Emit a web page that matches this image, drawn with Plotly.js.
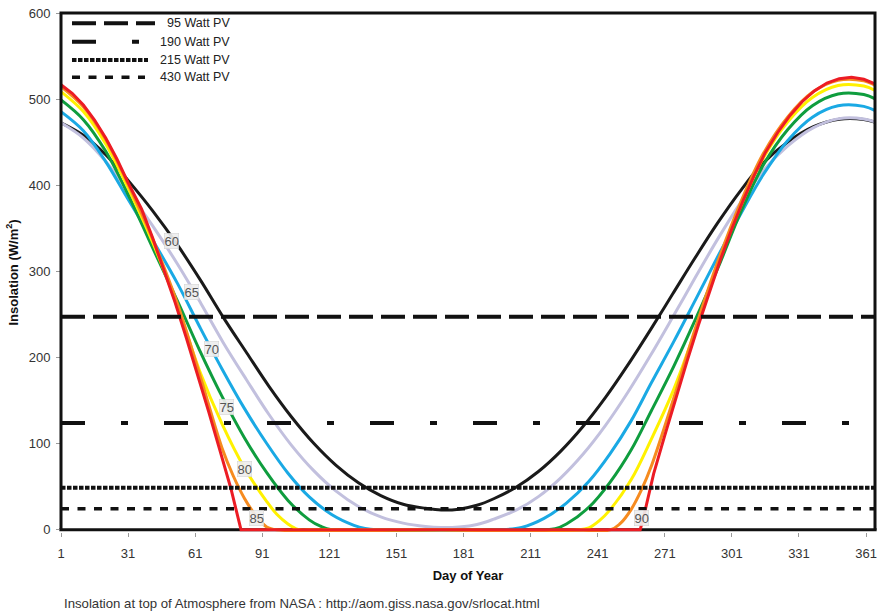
<!DOCTYPE html>
<html>
<head>
<meta charset="utf-8">
<script src="https://cdn.plot.ly/plotly-3.0.1.min.js"></script>
<style>html,body{margin:0;padding:0;background:#fff}#chart{width:877px;height:611px}</style>
</head>
<body>
<div id="chart"></div>
<script>
// ---- data ----
const DAYS_60 = [1,11,21,31,42,53,63.5,73.5,84,94,104,114,124,134,144,154,164,171,179,187,194.5,204.5,214.5,224.5,234.5,244.5,254.5,264.5,274.5,284.5,294.5,304.5,314.5,326,337.5,349,360,366];
const INS_60 = [472.5,458.1,435.4,405.7,370.3,331.0,289.3,247.0,205.6,166.6,131.3,100.5,74.9,54.7,39.8,29.7,25.0,23.0,24.0,28.5,36.1,49.4,67.7,91.4,120.2,153.8,191.5,231.9,273.7,315.5,355.7,392.4,424.6,450.2,468.0,476.7,476.4,472.5];

const DAYS_65 = [1,11,21,31,42,53,63.5,73.5,84,94,104,114,124,134,144,154,164,171,179,187,194.5,204.5,214.5,224.5,234.5,244.5,254.5,264.5,274.5,284.5,294.5,304.5,314.5,326,337.5,349,360,366];
const INS_65 = [472.5,454.9,427.7,393.2,352.8,308.9,263.1,217.6,174.0,133.9,98.4,68.7,44.9,27.1,15.0,7.8,3.9,2.7,3.3,6.2,12.4,22.8,38.6,60.4,88.0,121.3,159.7,202.0,246.7,292.3,336.9,378.5,415.5,445.7,466.9,477.4,477.0,472.5];

const DAYS_70 = [1,11,21,31,42,53,63,73,83,93,102.5,112,122,132,137,142,152,162,171,179,188,197,207,217,227,237,246.5,256,265,275,285,295,305,315,326,337,348.5,360,366];
const INS_70 = [485.5,463.3,427.5,383.7,336.3,286.4,235.8,186.8,141.0,100.2,65.7,38.2,17.9,5.3,1.6,0,0,0,0,0,0,0,2.8,13.3,31.1,56.1,88.2,126.8,170.7,218.5,268.4,318.7,367.0,412.2,452.1,479.1,492.3,491.6,485.5];

const DAYS_75 = [1,11,21,31,42,53,63,73,83,93,102.5,112,117,122,171,217,222,227,237,246.5,256,265,275,285,295,305,315,326,337,348.5,360,366];
const INS_75 = [499.1,476.2,439.4,389.3,327.3,266.1,208.4,154.9,107.0,66.3,34.2,11.6,4.2,0,0,0,1.3,6.8,26.0,55.1,92.9,138.3,189.8,246.0,305.4,369.0,423.2,464.7,492.4,506.0,505.3,499.1];

const DAYS_80 = [1,11,21,31,42,53,63,73,83,93,97.5,102.5,107,112,171,232,237,241.75,246.5,256,265,275,285,295,305,315,326,337,348.5,360,366];
const INS_80 = [508.8,485.6,448.0,396.9,333.7,260.1,184.4,123.0,72.1,32.8,18.1,6.9,0.4,0,0,0,2.3,10.7,23.2,58.4,105.4,163.1,233.9,309.8,376.2,431.5,473.8,502.0,515.9,515.2,508.8];

const DAYS_85 = [1,11,21,31,42,53,63,73,78,83,88,93,97.5,171,246.5,251.25,256,260.5,265,275,285,295,305,315,326,337,348.5,360,366];
const INS_85 = [514.7,491.2,453.2,401.5,337.5,263.1,180.4,95.0,62.8,36.8,16.9,3.4,0,0,0,7.8,23.8,46.0,74.0,152.7,236.6,313.4,380.6,436.5,479.3,507.9,521.8,521.2,514.7];

const DAYS_90 = [1,6,11,16,21,26,31,37,42,47,52,57,62,67,72,77,81.5,171,260,262,266,271,276,281,286,291,296,301,306,311,316,321.5,327,332.5,338,343.5,349,354.5,360,366];
const INS_90 = [516.7,506.8,493.1,475.7,454.9,430.5,403.1,372.5,338.8,302.6,264.1,223.3,181.0,137.6,92.8,47.7,0,0,0,20.2,65.0,109.6,153.3,196.1,237.5,277.0,314.6,349.6,382.0,411.6,438.1,461.3,481.1,497.3,509.8,518.7,523.8,525.4,523.1,516.7];

const LATITUDES = ['60','65','70','75','80','85','90'];
const LABEL_DAY = [50.6, 59.5, 68.2, 75.2, 83, 88.3, 260.8];
const LABEL_INS = [335, 276, 210, 143, 71, 14, 14];

const PV_NAMES = ['95 Watt PV','190 Watt PV','215 Watt PV','430 Watt PV'];
const PV_LEVELS = [247.5, 124, 49, 24.5];
const DAY_SPAN = [1, 365];
const X_TICKS = [1,31,61,91,121,151,181,211,241,271,301,331,361];
const Y_TICKS = [0,100,200,300,400,500,600];

// ---- styles ----
const FONT = 'Liberation Sans, Arial, sans-serif';
const CURVE_COLORS = ['#1a1a1a','#c2c0de','#1aa9e4','#0f9d3e','#fff100','#f68b1f','#ec1c24'];
const PV_DASH = ['24px,8px','24px,36px,7px,36px','4.5px,1.5px','8px,8.5px'];
const PV_WIDTH = [4,4,4,3.5];

const curveDays = [DAYS_60,DAYS_65,DAYS_70,DAYS_75,DAYS_80,DAYS_85,DAYS_90];
const curveVals = [INS_60,INS_65,INS_70,INS_75,INS_80,INS_85,INS_90];

const traces = [];
for (let i = 0; i < LATITUDES.length; i++) {
  traces.push({
    type:'scatter', mode:'lines', name: LATITUDES[i],
    x: curveDays[i], y: curveVals[i],
    line:{color: CURVE_COLORS[i], width: 3, shape: i === 6 ? 'linear' : 'spline', smoothing: 1},
    showlegend:false, hoverinfo:'skip'
  });
}
for (let i = 0; i < PV_NAMES.length; i++) {
  traces.push({
    type:'scatter', mode:'lines', name: PV_NAMES[i],
    x: DAY_SPAN, y: [PV_LEVELS[i], PV_LEVELS[i]],
    line:{color:'#111', width: PV_WIDTH[i], dash: PV_DASH[i]},
    showlegend:false, hoverinfo:'skip'
  });
}

// plot area geometry (pixels) for paper-coordinate helpers
const W = 877, H = 611, ML = 61, MR = 2, MT = 13, MB = 79;
const PW = W - ML - MR, PH = H - MT - MB;
const px2x = p => (p - ML) / PW;
const py2y = p => (H - MB - p) / PH;
const Y0 = 2.5 / 602.5;

const shapes = [
  {type:'line', xref:'paper', yref:'paper', x0:-0.002, x1:1.002, y0:Y0, y1:Y0, layer:'below', line:{color:'#111', width:3}},
  {type:'path', xref:'paper', yref:'paper', path:`M 0 ${Y0} L 0 1 L 1 1 L 1 ${Y0}`, layer:'above', line:{color:'#111', width:3}}
];
const annotations = [];
const legendRowsPy = [23.3, 41.7, 60, 77.3];
const legendEndPx = [155, 148, 148, 145];
for (let i = 0; i < PV_NAMES.length; i++) {
  const yy = py2y(legendRowsPy[i]);
  shapes.push({type:'line', xref:'paper', yref:'paper', x0:px2x(72), x1:px2x(legendEndPx[i]), y0:yy, y1:yy,
    layer:'above', line:{color:'#111', width:PV_WIDTH[i], dash:PV_DASH[i]}});
  annotations.push({xref:'paper', yref:'paper', x:px2x(232), y:yy, xanchor:'right', yanchor:'middle',
    text:PV_NAMES[i], showarrow:false, font:{family:FONT, size:12.5, color:'#222'}});
}
for (let i = 0; i < LATITUDES.length; i++) {
  annotations.push({x:LABEL_DAY[i], y:LABEL_INS[i], text:LATITUDES[i], showarrow:false,
    font:{family:FONT, size:13, color:'#555'}, bgcolor:'rgba(238,238,238,0.92)', bordercolor:'#cfcfcf',
    borderwidth:0.5, borderpad:0});
}
annotations.push({xref:'paper', yref:'paper', x:px2x(62), y:py2y(603), xanchor:'left', yanchor:'middle',
  text:'Insolation at top of Atmosphere from NASA : http://aom.giss.nasa.gov/srlocat.html',
  showarrow:false, font:{family:FONT, size:13.2, color:'#333'}});

const layout = {
  width:W, height:H,
  margin:{l:ML, r:MR, t:MT, b:MB, pad:0},
  paper_bgcolor:'#ffffff', plot_bgcolor:'rgba(0,0,0,0)',
  showlegend:false,
  font:{family:FONT, color:'#333'},
  xaxis:{
    range:DAY_SPAN, tickmode:'array', tickvals:X_TICKS, ticktext:X_TICKS.map(String),
    showgrid:false, zeroline:false, showline:false,
    ticks:'outside', ticklen:4, tickcolor:'#9a9a9a', tickwidth:1, ticklabelstandoff:5,
    tickfont:{family:FONT, size:13, color:'#333'},
    title:{text:'Day of Year', font:{family:FONT, size:13, color:'#111', weight:'bold'}, standoff:11}
  },
  yaxis:{
    range:[-2.5, 600], tickmode:'array', tickvals:Y_TICKS, ticktext:Y_TICKS.map(String),
    showgrid:false, zeroline:false, showline:false,
    ticks:'outside', ticklen:4, tickcolor:'#9a9a9a', tickwidth:1, ticklabelstandoff:3,
    tickfont:{family:FONT, size:13, color:'#333'},
    title:{text:'Insolation (W/m<sup>2</sup>)', font:{family:FONT, size:13, color:'#111', weight:'bold'}, standoff:7}
  },
  shapes, annotations
};

Plotly.newPlot('chart', traces, layout, {staticPlot:true, displayModeBar:false});
</script>
</body>
</html>
